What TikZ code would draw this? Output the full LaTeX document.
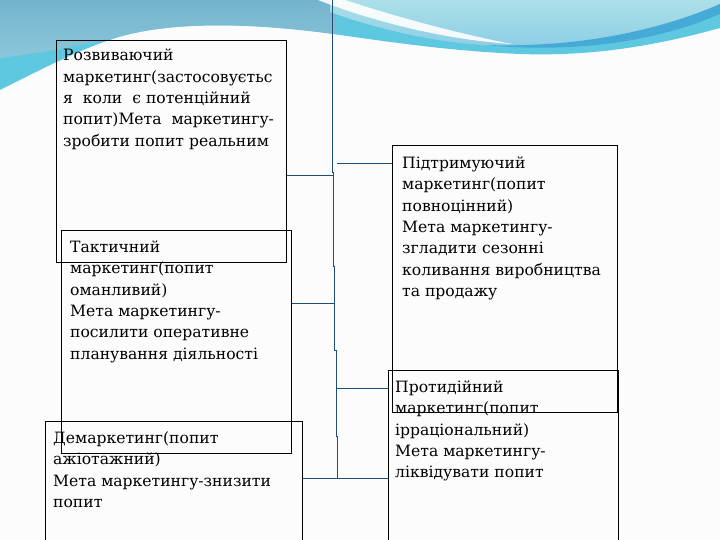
\documentclass[tikz,border=0pt]{standalone}
\usepackage{fontspec}
\setmainfont{DejaVu Serif}
\definecolor{conn}{RGB}{31,78,121}
\definecolor{wcyan}{RGB}{95,200,225}
\definecolor{wblueT}{RGB}{115,180,205}
\definecolor{wblueB}{RGB}{140,198,218}
\definecolor{wlightT}{RGB}{172,224,232}
\definecolor{wlightB}{RGB}{140,205,230}
\definecolor{wdark}{RGB}{70,170,215}
\definecolor{bg}{RGB}{252,252,252}
\newcommand{\fl}{\rule{0pt}{14pt}}
\tikzset{
  box/.style={draw=black, line width=0.9pt, rectangle, anchor=north west, inner sep=0pt},
  txt/.style={anchor=north west, align=left, inner sep=0pt, font=\fontsize{15.6}{21.4}\selectfont},
  link/.style={draw=conn, line width=0.9pt},
}
\begin{document}
\begin{tikzpicture}[x=1pt,y=-1pt]
\useasboundingbox (0,0) rectangle (720,540);
\clip (0,0) rectangle (720,540);
\fill[bg] (0,0) rectangle (720,540);
% wave background
\fill[wcyan] (0,0) -- (720,0) -- (720,28) .. controls (640,50) and (580,56) .. (520,54)
  .. controls (450,51) and (390,42) .. (340,35) .. controls (270,25) and (190,20) .. (130,34)
  .. controls (90,44) and (50,65) .. (0,90) -- cycle;
\shade[top color=wblueT, bottom color=wblueB] (0,0) -- (335,0) -- (335,34)
  .. controls (270,25) and (190,20) .. (130,34) .. controls (95,42) and (50,52) .. (0,58) -- cycle;
\shade[top color=wlightT, bottom color=wlightB] (330,0) -- (720,0) -- (720,12)
  .. controls (640,40) and (560,48) .. (500,46) .. controls (440,44) and (380,30) .. (330,12) -- cycle;
\fill[white, opacity=0.9] (318,0) -- (345,0) .. controls (400,18) and (460,34) .. (512,44)
  .. controls (450,40) and (380,24) .. (318,0) -- cycle;
\fill[wdark] (485,45) .. controls (580,48) and (660,30) .. (720,4) -- (720,14)
  .. controls (660,40) and (580,54) .. (485,45) -- cycle;
% boxes
\node[box, minimum width=230pt, minimum height=222pt] (b1) at (56,40) {};
\node[box, minimum width=230pt, minimum height=223pt] (b2) at (61,230) {};
\node[box, minimum width=257pt, minimum height=130pt] (b3) at (45,421) {};
\node[box, minimum width=225pt, minimum height=267pt] (b4) at (392,145) {};
\node[box, minimum width=230pt, minimum height=180pt] (b5) at (388,370) {};
% texts (first baseline = y + 14)
\node[txt] (t1) at (63,46.5) {\fl Розвиваючий\\маркетинг(застосовуєтьс\\я\ \ коли\ \ є потенційний\\попит)Мета\ \ маркетингу-\\зробити попит реальним};
\node[txt] (t2) at (70,238) {\fl Тактичний\\маркетинг(попит\\оманливий)\\Мета маркетингу-\\посилити оперативне\\планування діяльності};
\node[txt] (t3) at (53,429) {\fl Демаркетинг(попит\\ажіотажний)\\Мета маркетингу-знизити\\попит};
\node[txt] (t4) at (402,154) {\fl Підтримуючий\\маркетинг(попит\\повноцінний)\\Мета маркетингу-\\згладити сезонні\\коливання виробництва\\та продажу};
\node[txt] (t5) at (395,378) {\fl Протидійний\\маркетинг(попит\\ірраціональний)\\Мета маркетингу-\\ліквідувати попит};
% spine
\coordinate (top) at (332,0);
\coordinate (s1) at (333,175);
\coordinate (s2) at (334,303);
\coordinate (s3) at (336,388);
\coordinate (s4) at (337,478);
\coordinate (g4) at (337,163);
\draw[link] (top) -- (332,172) -- (333.5,172) -- (333.5,266) -- (334.5,266) -- (334.5,350) -- (336,350) -- (336,436) -- (337,436) -- (s4);
% connectors
\draw[link] (b1.east |- s1) -- (s1);
\draw[link] (g4) -- (b4.west |- g4);
\draw[link] (b2.east |- s2) -- (s2);
\draw[link] (s3) -- (b5.west |- s3);
\draw[link] (b3.east |- s4) -- (b5.west |- s4);
\end{tikzpicture}
\end{document}
